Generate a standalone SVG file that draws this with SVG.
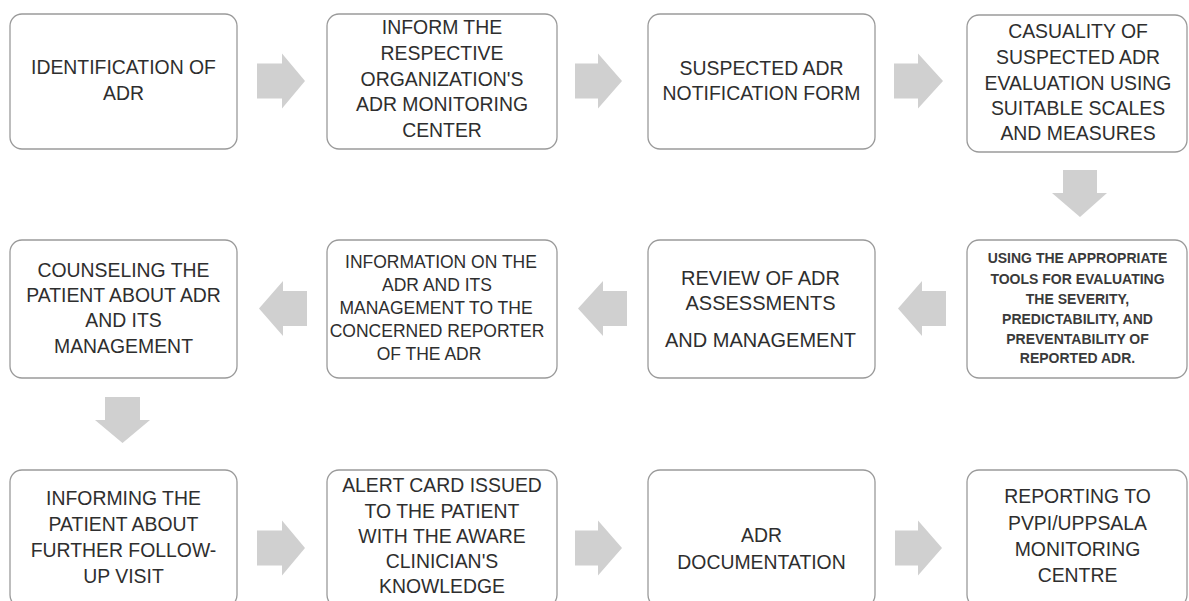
<svg xmlns="http://www.w3.org/2000/svg" width="1189" height="601" viewBox="0 0 1189 601">
<style>
.box{fill:#ffffff;stroke:#9a9a9a;stroke-width:1.3}
.arr{fill:#d0d0d0}
text{font-family:"Liberation Sans",Arial,sans-serif;fill:#2e2e2e;text-anchor:middle;font-size:19.4px}
.sm{font-size:17.5px}
.xs{font-size:14px;font-weight:bold;fill:#3a3a3a}
.lg{font-size:20px}
</style>
<rect width="1189" height="601" fill="#ffffff"/>
<g id="connectors">
<polygon class="arr" points="257,63.5 282,63.5 282,53.5 305,81 282,108.5 282,98.5 257,98.5"/>
<polygon class="arr" points="575,63.5 598,63.5 598,53.5 622,81 598,108.5 598,98.5 575,98.5"/>
<polygon class="arr" points="894,63.5 918,63.5 918,53.5 943,81 918,108.5 918,98.5 894,98.5"/>
<polygon class="arr" points="1063,170 1097,170 1097,193 1107,193 1080,217 1052,193 1063,193"/>
<polygon class="arr" points="307,291 283,291 283,281 259,308.5 283,336 283,326 307,326"/>
<polygon class="arr" points="627,291 603,291 603,281 578,308.5 603,336 603,326 627,326"/>
<polygon class="arr" points="946,291 922,291 922,281 898,308.5 922,336 922,326 946,326"/>
<polygon class="arr" points="105,397 140,397 140,420 150,420 122.5,443 95,420 105,420"/>
<polygon class="arr" points="257,530.5 282,530.5 282,520.5 305,548 282,575.5 282,565.5 257,565.5"/>
<polygon class="arr" points="575,530.5 598,530.5 598,520.5 622,548 598,575.5 598,565.5 575,565.5"/>
<polygon class="arr" points="895,530.5 918,530.5 918,520.5 942,548 918,575.5 918,565.5 895,565.5"/>
</g>
<g id="n1"><rect class="box" x="10" y="14" width="227" height="135" rx="12"/>
<text x="123.5" y="74">IDENTIFICATION OF</text><text x="123.5" y="100">ADR</text></g>
<g id="n2"><rect class="box" x="327" y="14" width="230" height="135" rx="12"/>
<text x="442" y="34">INFORM THE</text><text x="442" y="60">RESPECTIVE</text><text x="442" y="86">ORGANIZATION'S</text><text x="442" y="111">ADR MONITORING</text><text x="442" y="137">CENTER</text></g>
<g id="n3"><rect class="box" x="648" y="14" width="227" height="135" rx="12"/>
<text x="761.5" y="75">SUSPECTED ADR</text><text x="761.5" y="100">NOTIFICATION FORM</text></g>
<g id="n4"><rect class="box" x="967" y="15" width="220" height="137" rx="12"/>
<text x="1078" y="38">CASUALITY OF</text><text x="1078" y="64">SUSPECTED ADR</text><text x="1078" y="90">EVALUATION USING</text><text x="1078" y="115">SUITABLE SCALES</text><text x="1078" y="140">AND MEASURES</text></g>
<g id="n5"><rect class="box" x="967" y="240" width="220" height="138" rx="12"/>
<text class="xs" x="1077.5" y="263">USING THE APPROPRIATE</text><text class="xs" x="1077.5" y="284">TOOLS FOR EVALUATING</text><text class="xs" x="1077.5" y="304">THE SEVERITY,</text><text class="xs" x="1077.5" y="324">PREDICTABILITY, AND</text><text class="xs" x="1077.5" y="344">PREVENTABILITY OF</text><text class="xs" x="1077.5" y="363">REPORTED ADR.</text></g>
<g id="n6"><rect class="box" x="648" y="240" width="227" height="138" rx="12"/>
<text class="lg" x="760.5" y="285">REVIEW OF ADR</text><text class="lg" x="760.5" y="310">ASSESSMENTS</text><text class="lg" x="760.5" y="347">AND MANAGEMENT</text></g>
<g id="n7"><rect class="box" x="327" y="240" width="230" height="138" rx="12"/>
<text class="sm" x="441" y="268">INFORMATION ON THE</text><text class="sm" x="437" y="291">ADR AND ITS</text><text class="sm" x="436" y="314">MANAGEMENT TO THE</text><text class="sm" x="437" y="337">CONCERNED REPORTER</text><text class="sm" x="429" y="360">OF THE ADR</text></g>
<g id="n8"><rect class="box" x="10" y="240" width="227" height="138" rx="12"/>
<text x="123.5" y="277">COUNSELING THE</text><text x="123.5" y="302">PATIENT ABOUT ADR</text><text x="123.5" y="327">AND ITS</text><text x="123.5" y="353">MANAGEMENT</text></g>
<g id="n9"><rect class="box" x="10" y="470" width="227" height="137" rx="12"/>
<text x="123.5" y="505">INFORMING THE</text><text x="123.5" y="531">PATIENT ABOUT</text><text x="123.5" y="557">FURTHER FOLLOW-</text><text x="123.5" y="583">UP VISIT</text></g>
<g id="n10"><rect class="box" x="327" y="470" width="230" height="137" rx="12"/>
<text x="442" y="492">ALERT CARD ISSUED</text><text x="442" y="518">TO THE PATIENT</text><text x="442" y="543">WITH THE AWARE</text><text x="442" y="568">CLINICIAN'S</text><text x="442" y="593">KNOWLEDGE</text></g>
<g id="n11"><rect class="box" x="648" y="470" width="227" height="137" rx="12"/>
<text x="761.5" y="542">ADR</text><text x="761.5" y="569">DOCUMENTATION</text></g>
<g id="n12"><rect class="box" x="967" y="470" width="220" height="137" rx="12"/>
<text x="1077.5" y="503">REPORTING TO</text><text x="1077.5" y="530">PVPI/UPPSALA</text><text x="1077.5" y="556">MONITORING</text><text x="1077.5" y="582">CENTRE</text></g>
</svg>
